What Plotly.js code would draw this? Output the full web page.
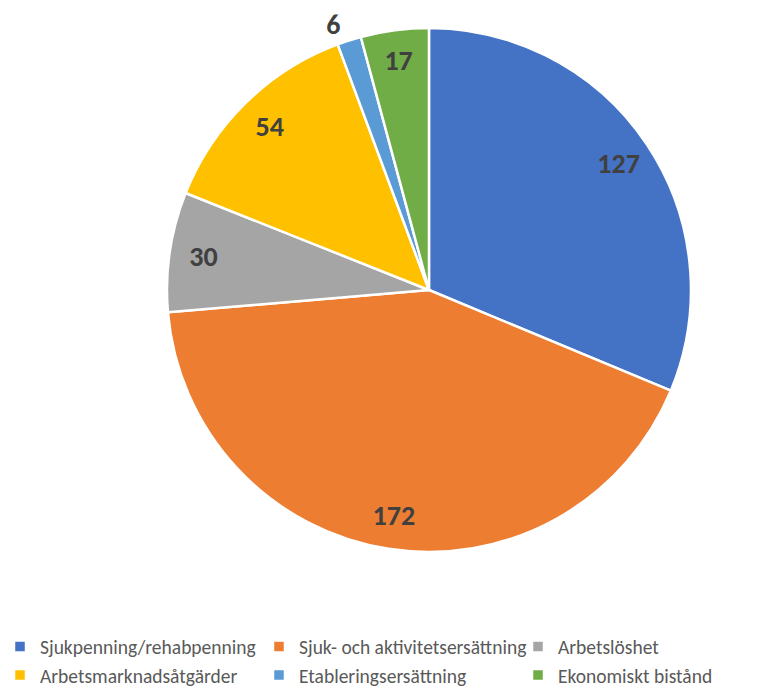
<!DOCTYPE html>
<html>
<head>
<meta charset="utf-8">
<script src="https://cdn.plot.ly/plotly-3.0.1.min.js"></script>
<style>
  html, body { margin: 0; padding: 0; background: #fff; }
  #chart { width: 777px; height: 695px; }
</style>
</head>
<body>
<div id="chart"></div>
<script>
// Kategorier och värden
const categories = [
  'Sjukpenning/rehabpenning',
  'Sjuk- och aktivitetsersättning',
  'Arbetslöshet',
  'Arbetsmarknadsåtgärder',
  'Etableringsersättning',
  'Ekonomiskt bistånd'
];
const values = [127, 172, 30, 54, 6, 17];
const colors = ['#4472C4', '#ED7D31', '#A5A5A5', '#FFC000', '#5B9BD5', '#70AD47'];
const textPositions = ['inside', 'inside', 'inside', 'inside', 'outside', 'inside'];

const font = 'Carlito, "Liberation Sans Narrow", "Open Sans", sans-serif';
const pieDomain = { x: [0.2149, 0.8893], y: [0.2058, 0.9597] };

// main pie, no text
const pie = {
  type: 'pie',
  labels: categories,
  values: values,
  sort: false,
  direction: 'clockwise',
  rotation: 0,
  textinfo: 'none',
  marker: { colors: colors, line: { color: '#ffffff', width: 2.5 } },
  domain: pieDomain,
  hoverinfo: 'label+value'
};

// transparent ring on top, only to put the value labels near the rim
const labelRing = {
  type: 'pie',
  labels: categories,
  values: values,
  sort: false,
  direction: 'clockwise',
  rotation: 0,
  hole: 0.74,
  textinfo: 'value',
  textposition: textPositions,
  insidetextorientation: 'horizontal',
  textfont: { family: font, size: 28, color: '#404040', weight: 'bold' },
  marker: { colors: colors.map(() => 'rgba(0,0,0,0)'), line: { width: 0 } },
  domain: pieDomain,
  showlegend: false,
  hoverinfo: 'skip'
};

Plotly.newPlot('chart', [pie, labelRing], {
  width: 777,
  height: 695,
  margin: { l: 0, r: 0, t: 0, b: 0 },
  paper_bgcolor: '#ffffff',
  showlegend: true,
  legend: {
    orientation: 'h',
    x: 0.0,
    xanchor: 'left',
    y: 0.049,
    yanchor: 'middle',
    entrywidth: 214,
    entrywidthmode: 'pixels',
    font: { family: font, size: 19.5, color: '#595959' },
    itemwidth: 30
  }
}, { displayModeBar: false });
</script>
</body>
</html>
